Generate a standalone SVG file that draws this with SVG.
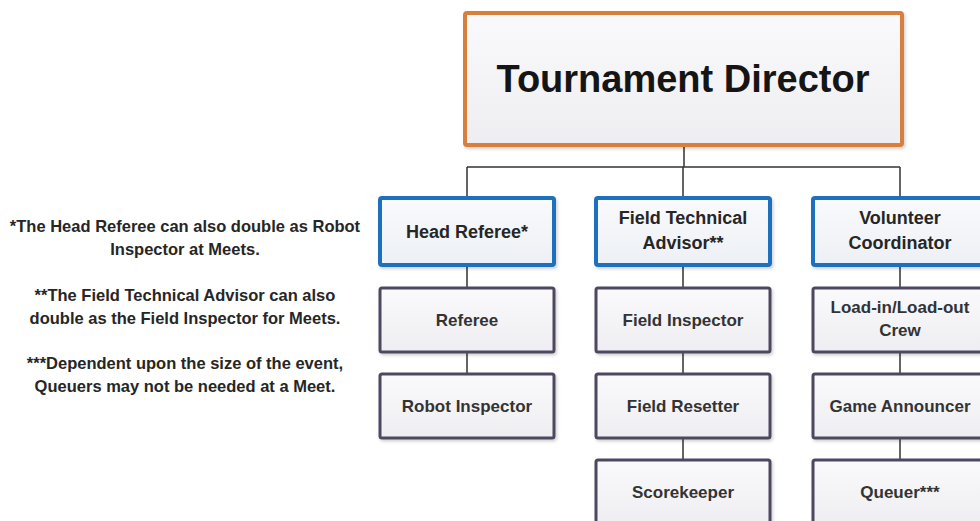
<svg xmlns="http://www.w3.org/2000/svg" width="980" height="521" viewBox="0 0 980 521">
<defs>
<linearGradient id="gFill" x1="0" y1="0" x2="0" y2="1">
<stop offset="0" stop-color="#FAFAFC"/>
<stop offset="1" stop-color="#EEEEF2"/>
</linearGradient>
<linearGradient id="gBlue" x1="0" y1="0" x2="0" y2="1">
<stop offset="0" stop-color="#F9FAFC"/>
<stop offset="1" stop-color="#EDF0F5"/>
</linearGradient>
<filter id="sh" x="-5%" y="-5%" width="115%" height="120%">
<feDropShadow dx="1.5" dy="2" stdDeviation="1.5" flood-color="#000" flood-opacity="0.18"/>
</filter>
</defs>
<style>
text{font-family:"Liberation Sans",Arial,sans-serif;font-weight:bold;text-anchor:middle}
.top{fill:url(#gFill);stroke:#D97F3A;stroke-width:4}
.head{fill:url(#gBlue);stroke:#1F70BE;stroke-width:4}
.sub{fill:url(#gFill);stroke:#4E4660;stroke-width:3}
.t1{font-size:38px;fill:#151515}
.t2{font-size:18px;fill:#262626}
.t3{font-size:17px;fill:#333}
.note{font-size:16.5px;fill:#262626}
.conn{stroke:#333;stroke-width:1.5;fill:none}
</style>
<rect width="980" height="521" fill="#FFFFFF"/>

<g id="notes">
<text class="note" x="185" y="232">*The Head Referee can also double as Robot</text>
<text class="note" x="185" y="255">Inspector at Meets.</text>
<text class="note" x="185" y="301">**The Field Technical Advisor can also</text>
<text class="note" x="185" y="324">double as the Field Inspector for Meets.</text>
<text class="note" x="185" y="369">***Dependent upon the size of the event,</text>
<text class="note" x="185" y="392">Queuers may not be needed at a Meet.</text>
</g>

<g id="connectors">
<path class="conn" d="M684 145V167M467 167H900M467 167V198M683 167V198M900 167V198"/>
<path class="conn" d="M467 265V288M467 352V374"/>
<path class="conn" d="M683 265V288M683 352V374M683 438V460"/>
<path class="conn" d="M900 265V288M900 352V374M900 438V460"/>
</g>

<g id="tournament-director">
<rect class="top" x="465" y="13" width="437" height="132" rx="2" filter="url(#sh)"/>
<text class="t1" x="683" y="92">Tournament Director</text>
</g>

<g id="head-referee">
<rect class="head" x="380" y="198" width="174" height="67" rx="2" filter="url(#sh)"/>
<text class="t2" x="467" y="238">Head Referee*</text>
</g>
<g id="referee">
<rect class="sub" x="380" y="288" width="174" height="64" rx="2" filter="url(#sh)"/>
<text class="t3" x="467" y="326">Referee</text>
</g>
<g id="robot-inspector">
<rect class="sub" x="380" y="374" width="174" height="64" rx="2" filter="url(#sh)"/>
<text class="t3" x="467" y="412">Robot Inspector</text>
</g>

<g id="field-technical-advisor">
<rect class="head" x="596" y="198" width="174" height="67" rx="2" filter="url(#sh)"/>
<text class="t2" x="683" y="224">Field Technical</text>
<text class="t2" x="683" y="249">Advisor**</text>
</g>
<g id="field-inspector">
<rect class="sub" x="596" y="288" width="174" height="64" rx="2" filter="url(#sh)"/>
<text class="t3" x="683" y="326">Field Inspector</text>
</g>
<g id="field-resetter">
<rect class="sub" x="596" y="374" width="174" height="64" rx="2" filter="url(#sh)"/>
<text class="t3" x="683" y="412">Field Resetter</text>
</g>
<g id="scorekeeper">
<rect class="sub" x="596" y="460" width="174" height="64" rx="2" filter="url(#sh)"/>
<text class="t3" x="683" y="498">Scorekeeper</text>
</g>

<g id="volunteer-coordinator">
<rect class="head" x="813" y="198" width="174" height="67" rx="2" filter="url(#sh)"/>
<text class="t2" x="900" y="224">Volunteer</text>
<text class="t2" x="900" y="249">Coordinator</text>
</g>
<g id="load-crew">
<rect class="sub" x="813" y="288" width="174" height="64" rx="2" filter="url(#sh)"/>
<text class="t3" x="900" y="313">Load-in/Load-out</text>
<text class="t3" x="900" y="336">Crew</text>
</g>
<g id="game-announcer">
<rect class="sub" x="813" y="374" width="174" height="64" rx="2" filter="url(#sh)"/>
<text class="t3" x="900" y="412">Game Announcer</text>
</g>
<g id="queuer">
<rect class="sub" x="813" y="460" width="174" height="64" rx="2" filter="url(#sh)"/>
<text class="t3" x="900" y="498">Queuer***</text>
</g>
</svg>
